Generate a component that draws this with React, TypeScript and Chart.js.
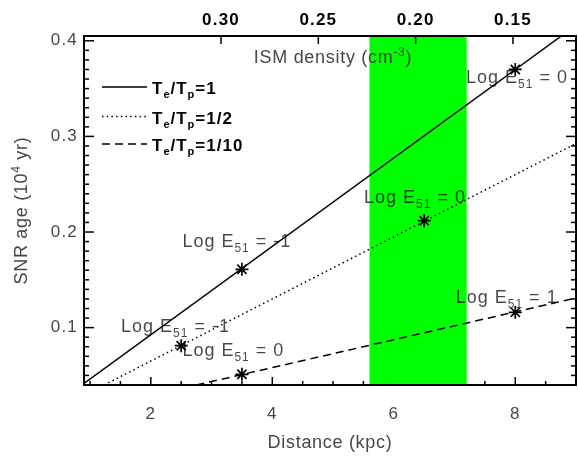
import React, { useEffect, useRef } from 'react';
import { Chart, registerables } from 'chart.js';

Chart.register(...registerables);

const FONT = '"Liberation Sans", Arial, Helvetica, sans-serif';
const GREY = '#474747';
const LABEL_COLOR = 'rgba(0,0,0,0.72)';

// Axis ranges
const distanceMin = 0.9;
const distanceMax = 9;
const ageMin = 0.04;
const ageMax = 0.405;
const densityAtMin = 0.3704; // ISM density at the left edge
const densityAtMax = 0.1176; // ISM density at the right edge

// Tick values
const distanceTicks = [2, 4, 6, 8];
const ageTicks = [0.1, 0.2, 0.3, 0.4];
const densityTicks = [0.3, 0.25, 0.2, 0.15];

// Shaded distance range
const greenBand = [5.6, 7.2];

// Lines (Te/Tp = 1, 1/2, 1/10)
const solidX = [0.9, 8.76];
const solidY = [0.0416, 0.405];
const dottedX = [1.23, 9];
const dottedY = [0.04, 0.2925];
const dashedX = [2.75, 9];
const dashedY = [0.04, 0.131];

// Star markers
const starX = [3.5, 8, 2.5, 6.5, 3.5, 8];
const starY = [0.161, 0.37, 0.0811, 0.2119, 0.0512, 0.116];

// Log E51 labels
const energyLabels = ['-1', '0', '0', '-1', '0', '1'];
const energyLabelX = [2.52, 7.19, 5.51, 1.51, 2.52, 7.02];
const energyLabelY = [0.1847, 0.3562, 0.23, 0.0958, 0.0703, 0.1255];

// Legend
const legendRatios = ['1', '1/2', '1/10'];
const legendDashes: number[][] = [[], [1.5, 3.2], [8, 5]];

type Seg = { t: string; size: number; bold?: boolean; dy?: number };

function drawRich(
  ctx: CanvasRenderingContext2D,
  segs: Seg[],
  x: number,
  y: number,
  align: 'left' | 'center',
  color: string,
  spacing: number
) {
  ctx.save();
  ctx.fillStyle = color;
  ctx.textBaseline = 'alphabetic';
  ctx.textAlign = 'left';
  (ctx as any).letterSpacing = spacing + 'px';
  const fontOf = (s: Seg) => `${s.bold ? 'bold ' : ''}${s.size}px ${FONT}`;
  let total = 0;
  for (const s of segs) {
    ctx.font = fontOf(s);
    total += ctx.measureText(s.t).width;
  }
  let cx = align === 'center' ? x - total / 2 : x;
  for (const s of segs) {
    ctx.font = fontOf(s);
    ctx.fillText(s.t, cx, y + (s.dy || 0));
    cx += ctx.measureText(s.t).width;
  }
  ctx.restore();
}

function seg(ctx: CanvasRenderingContext2D, x0: number, y0: number, x1: number, y1: number) {
  ctx.beginPath();
  ctx.moveTo(x0, y0);
  ctx.lineTo(x1, y1);
  ctx.stroke();
}

const zeroPad = (s: any) => {
  s.paddingLeft = 0;
  s.paddingRight = 0;
  s.paddingTop = 0;
  s.paddingBottom = 0;
};

const decorPlugin = {
  id: 'decor',
  beforeLayout(chart: any) {
    chart.ctx.letterSpacing = '1.2px';
  },
  beforeDraw(chart: any) {
    chart.ctx.letterSpacing = '1.2px';
  },
  beforeDatasetsDraw(chart: any) {
    const { ctx, chartArea: a, scales } = chart;
    const xs = scales.x;
    const ys = scales.y;
    ctx.save();
    ctx.strokeStyle = '#000';
    ctx.lineWidth = 1.5;
    // bottom ticks (major + minor every 0.5)
    for (let i = 2; i <= 18; i++) {
      const v = i * 0.5;
      if (v < distanceMin || v > distanceMax) continue;
      const major = distanceTicks.some((t) => Math.abs(t - v) < 1e-6);
      const px = xs.getPixelForValue(v);
      seg(ctx, px, a.bottom, px, a.bottom - (major ? 8 : 4));
    }
    // left & right ticks (major 0.1, minor 0.01)
    for (let i = 4; i <= 41; i++) {
      const v = i / 100;
      if (v < ageMin || v > ageMax) continue;
      const major = ageTicks.some((t) => Math.abs(t - v) < 1e-6);
      const py = ys.getPixelForValue(v);
      const len = major ? 10 : 5;
      seg(ctx, a.left, py, a.left + len, py);
      seg(ctx, a.right, py, a.right - len, py);
    }
    // green band
    ctx.fillStyle = '#00ff00';
    const b0 = xs.getPixelForValue(greenBand[0]);
    const b1 = xs.getPixelForValue(greenBand[1]);
    ctx.fillRect(b0, a.top, b1 - b0, a.bottom - a.top);
    ctx.restore();
  },
  afterDatasetsDraw(chart: any) {
    const { ctx, chartArea: a, scales } = chart;
    const xs = scales.x;
    const ys = scales.y;
    const x2 = scales.x2;
    ctx.save();
    // frame
    ctx.strokeStyle = '#000';
    ctx.lineWidth = 2;
    ctx.strokeRect(a.left, a.top, a.right - a.left, a.bottom - a.top);
    // top ticks
    ctx.lineWidth = 1.5;
    for (const v of densityTicks) {
      const px = x2.getPixelForValue(v);
      seg(ctx, px, a.top, px, a.top + 8);
    }
    // legend
    const rows = [87, 116.5, 144];
    legendRatios.forEach((r, i) => {
      ctx.save();
      ctx.strokeStyle = '#000';
      ctx.lineWidth = 1.5;
      ctx.setLineDash(legendDashes[i]);
      seg(ctx, 102, rows[i], 147, rows[i]);
      ctx.restore();
      drawRich(
        ctx,
        [
          { t: 'T', size: 17, bold: true },
          { t: 'e', size: 11, bold: true, dy: 4 },
          { t: '/T', size: 17, bold: true },
          { t: 'p', size: 11, bold: true, dy: 4 },
          { t: '=' + r, size: 17, bold: true },
        ],
        152,
        rows[i] + 7,
        'left',
        '#000',
        1
      );
    });
    // Log E51 labels
    energyLabels.forEach((val, i) => {
      const px = xs.getPixelForValue(energyLabelX[i]);
      const py = ys.getPixelForValue(energyLabelY[i]);
      drawRich(
        ctx,
        [
          { t: 'Log E', size: 18 },
          { t: '51', size: 12, dy: 5 },
          { t: ' = ' + val, size: 18 },
        ],
        px,
        py,
        'left',
        LABEL_COLOR,
        1
      );
    });
    // ISM density title (inside plot)
    drawRich(
      ctx,
      [
        { t: 'ISM density (cm', size: 18 },
        { t: '-3', size: 12, dy: -7 },
        { t: ')', size: 18 },
      ],
      333,
      63,
      'center',
      GREY,
      0.7
    );
    // x title
    drawRich(ctx, [{ t: 'Distance (kpc)', size: 18 }], (a.left + a.right) / 2, 448, 'center', GREY, 0.7);
    // y title
    ctx.save();
    ctx.translate(27, (a.top + a.bottom) / 2);
    ctx.rotate(-Math.PI / 2);
    drawRich(
      ctx,
      [
        { t: 'SNR age (10', size: 18 },
        { t: '4', size: 12, dy: -7 },
        { t: ' yr)', size: 18 },
      ],
      0,
      0,
      'center',
      GREY,
      0.7
    );
    ctx.restore();
    ctx.restore();
  },
};

export default function App() {
  const ref = useRef<HTMLCanvasElement | null>(null);
  useEffect(() => {
    if (!ref.current) return;
    const toPts = (xs: number[], ys: number[]) => xs.map((x, i) => ({ x, y: ys[i] }));
    const chart = new Chart(ref.current, {
      type: 'scatter',
      data: {
        datasets: [
          {
            data: toPts(solidX, solidY),
            showLine: true,
            borderColor: '#000',
            borderWidth: 1.5,
            pointRadius: 0,
            fill: false,
          },
          {
            data: toPts(dottedX, dottedY),
            showLine: true,
            borderColor: '#000',
            borderWidth: 1.5,
            borderDash: [1.5, 3.2],
            pointRadius: 0,
            fill: false,
          },
          {
            data: toPts(dashedX, dashedY),
            showLine: true,
            borderColor: '#000',
            borderWidth: 1.5,
            borderDash: [8, 5],
            pointRadius: 0,
            fill: false,
          },
          {
            data: toPts(starX, starY),
            showLine: false,
            pointStyle: 'star',
            pointRadius: 6.5,
            borderColor: '#000',
            backgroundColor: '#000',
            borderWidth: 1.7,
          },
        ],
      } as any,
      options: {
        responsive: false,
        animation: false,
        devicePixelRatio: 1,
        layout: { autoPadding: false, padding: { left: 0, right: 2, top: 0, bottom: 0 } },
        plugins: { legend: { display: false }, tooltip: { enabled: false } },
        scales: {
          x: {
            type: 'linear',
            position: 'bottom',
            min: distanceMin,
            max: distanceMax,
            grid: { display: false, drawTicks: false },
            border: { display: false },
            afterBuildTicks: (s: any) => {
              s.ticks = distanceTicks.map((v) => ({ value: v }));
            },
            afterFit: (s: any) => {
              s.height = 76;
              zeroPad(s);
            },
            ticks: {
              autoSkip: false,
              maxRotation: 0,
              padding: 19,
              color: GREY,
              font: { family: FONT, size: 17 },
              callback: (v: any) => String(v),
            },
          },
          x2: {
            type: 'linear',
            position: 'top',
            min: densityAtMax,
            max: densityAtMin,
            reverse: true,
            grid: { display: false, drawTicks: false },
            border: { display: false },
            afterBuildTicks: (s: any) => {
              s.ticks = densityTicks.map((v) => ({ value: v }));
            },
            afterFit: (s: any) => {
              s.height = 36;
              zeroPad(s);
            },
            ticks: {
              autoSkip: false,
              maxRotation: 0,
              padding: 5,
              color: '#000',
              font: { family: FONT, size: 17, weight: 'bold' },
              callback: (v: any) => Number(v).toFixed(2),
            },
          },
          y: {
            type: 'linear',
            position: 'left',
            min: ageMin,
            max: ageMax,
            grid: { display: false, drawTicks: false },
            border: { display: false },
            afterBuildTicks: (s: any) => {
              s.ticks = ageTicks.map((v) => ({ value: v }));
            },
            afterFit: (s: any) => {
              s.width = 84;
              zeroPad(s);
            },
            ticks: {
              autoSkip: false,
              padding: 6,
              color: GREY,
              font: { family: FONT, size: 17 },
              callback: (v: any) => Number(v).toFixed(1),
            },
          },
        },
      } as any,
      plugins: [decorPlugin as any],
    });
    return () => chart.destroy();
  }, []);
  return (
    <div style={{ position: 'fixed', left: 0, top: 0, width: 578, height: 461, background: '#fff' }}>
      <canvas ref={ref} width={578} height={461} style={{ display: 'block', width: 578, height: 461 }} />
    </div>
  );
}
